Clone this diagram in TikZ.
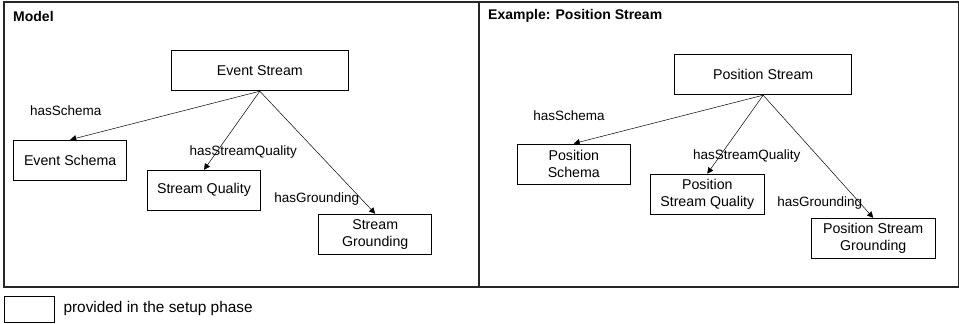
\documentclass[tikz,border=0pt]{standalone}
\usepackage{fontspec}
\setmainfont{Liberation Sans}
\usetikzlibrary{arrows.meta}
\begin{document}
\begin{tikzpicture}[x=1pt,y=-1pt,
  frame/.style={draw=black!85,line width=1.3pt},
  entity/.style={draw,line width=1pt,minimum width=#1,minimum height=40pt,
    inner sep=0pt,align=center,font=\fontsize{14.2}{16.8}\selectfont},
  entity/.default=113.5pt,
  rel/.style={-{Triangle[length=6pt,width=6pt]},line width=0.5pt},
  rlabel/.style={font=\fontsize{13.5}{16}\selectfont,inner sep=0pt},
  title/.style={font=\fontsize{14}{16}\selectfont\bfseries,anchor=west,inner sep=0pt}]
\useasboundingbox (0,0) rectangle (959,324);

% panels
\draw[frame] (4,2) rectangle (479,287);
\draw[frame] (479,2) rectangle (958.3,287);
\node[title] (t1) at (13,16) {Model};
\node[title] (t2) at (488,16) {Example: Position Stream};

% model panel
\node[entity=177pt] (es) at (259.8,70.7) {Event Stream};
\node[entity] (esch) at (70.2,160.2) {Event Schema};
\node[entity] (sq) at (204,190.3) {Stream Quality};
\node[entity] (sg) at (375.2,234.2) {Stream\\Grounding};
\draw[rel] (es.south) -- (esch.north);
\draw[rel] (es.south) -- (sq.north);
\draw[rel] (es.south) -- (sg.north);
\node[rlabel] (l1) at (65.7,111) {hasSchema};
\node[rlabel] (l2) at (243.3,152.3) {hasStreamQuality};
\node[rlabel] (l3) at (316.7,199.3) {hasGrounding};

% example panel
\node[entity=177pt] (ps) at (763.2,74.7) {Position Stream};
\node[entity] (psch) at (573.8,164) {Position\\Schema};
\node[entity] (psq) at (707.3,194.2) {Position\\Stream Quality};
\node[entity=123.7pt] (psg) at (873.2,238.3) {Position Stream\\Grounding};
\draw[rel] (ps.south) -- (psch.north);
\draw[rel] (ps.south) -- (psq.north);
\draw[rel] (ps.south) -- (psg.north);
\node[rlabel] (m1) at (569,115.3) {hasSchema};
\node[rlabel] (m2) at (746.7,156) {hasStreamQuality};
\node[rlabel] (m3) at (819.7,202.7) {hasGrounding};

% legend
\node[draw,line width=1pt,minimum width=50.3pt,minimum height=26pt,inner sep=0pt] (key) at (29.2,309) {};
\node[anchor=west,inner sep=0pt,font=\fontsize{15.4}{18}\selectfont] (keytext) at (63.3,308.7) {provided in the setup phase};
\end{tikzpicture}
\end{document}
